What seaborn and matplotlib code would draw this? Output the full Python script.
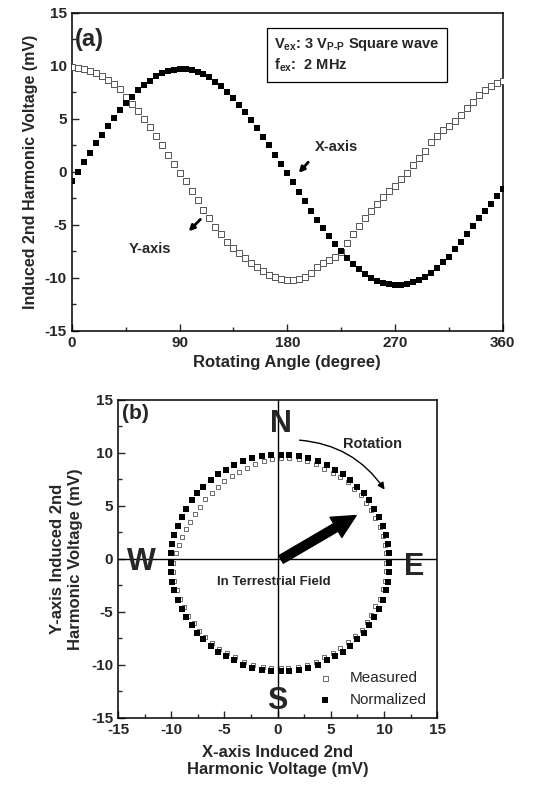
import numpy as np
import pandas as pd
import matplotlib
matplotlib.use('Agg')
import matplotlib.pyplot as plt
import seaborn as sns

# rotating angle (degree), 5 degree steps
angle = list(range(0, 361, 5))

# X-axis induced 2nd harmonic voltage (mV), filled squares
x_volt = [-0.9, 0.0, 0.9, 1.8, 2.7, 3.5, 4.3, 5.1, 5.8, 6.5, 7.1, 7.7, 8.2, 8.6, 9.0, 9.3, 9.5, 9.6,
          9.7, 9.7, 9.6, 9.4, 9.2, 8.9, 8.5, 8.1, 7.5, 7.0, 6.3, 5.6, 4.9, 4.1, 3.3, 2.5, 1.6, 0.7,
          -0.1, -1.0, -1.9, -2.8, -3.7, -4.5, -5.3, -6.1, -6.8, -7.5, -8.1, -8.7, -9.2, -9.6, -10.0, -10.3, -10.5, -10.6,
          -10.7, -10.7, -10.6, -10.4, -10.2, -9.9, -9.5, -9.1, -8.5, -8.0, -7.3, -6.6, -5.9, -5.1, -4.4, -3.7, -3.0, -2.3,
          -1.6]

# Y-axis induced 2nd harmonic voltage (mV), open squares
y_volt = [9.9, 9.8, 9.7, 9.5, 9.3, 9.0, 8.7, 8.3, 7.8, 7.1, 6.4, 5.7, 5.0, 4.2, 3.4, 2.5, 1.6, 0.7,
          -0.1, -0.9, -1.8, -2.7, -3.6, -4.4, -5.2, -5.9, -6.6, -7.2, -7.7, -8.1, -8.6, -9.0, -9.4, -9.7, -9.9, -10.1,
          -10.2, -10.2, -10.1, -9.9, -9.5, -9.0, -8.6, -8.3, -8.0, -7.6, -6.7, -5.9, -5.1, -4.4, -3.7, -3.0, -2.4, -1.8,
          -1.3, -0.7, -0.1, 0.6, 1.3, 2.0, 2.8, 3.4, 3.9, 4.3, 4.8, 5.4, 6.0, 6.6, 7.2, 7.7, 8.1, 8.4,
          8.6]

# panel (b): measured points (open)
x_meas = [0.3, 1.1, 2.0, 2.8, 3.6, 4.4, 5.2, 5.9, 6.6, 7.2, 7.8, 8.3, 8.8, 9.2, 9.6, 9.9, 10.1, 10.2,
          10.2, 10.2, 10.1, 9.9, 9.6, 9.2, 8.8, 8.4, 7.9, 7.3, 6.6, 5.9, 5.2, 4.4, 3.6, 2.8, 1.9, 1.0,
          0.3, -0.6, -1.4, -2.3, -3.2, -4.0, -4.8, -5.5, -6.2, -6.8, -7.4, -7.9, -8.4, -8.8, -9.2, -9.5, -9.7, -9.8,
          -9.8, -9.6, -9.3, -9.0, -8.6, -8.2, -7.8, -7.3, -6.8, -6.2, -5.6, -5.0, -4.3, -3.6, -2.9, -2.1, -1.3, -0.5]
y_meas = [9.5, 9.5, 9.4, 9.2, 8.9, 8.5, 8.1, 7.7, 7.2, 6.6, 6.0, 5.3, 4.6, 3.8, 3.0, 2.1, 1.3, 0.5,
          -0.4, -1.2, -2.1, -2.9, -3.8, -4.5, -5.3, -6.0, -6.7, -7.3, -7.9, -8.4, -8.9, -9.3, -9.7, -10.0, -10.2, -10.3,
          -10.3, -10.3, -10.2, -10.0, -9.7, -9.3, -8.9, -8.5, -8.0, -7.4, -6.8, -6.1, -5.4, -4.6, -3.8, -3.0, -2.1, -1.3,
          -0.4, 0.5, 1.3, 2.0, 2.8, 3.5, 4.2, 4.9, 5.6, 6.2, 6.8, 7.3, 7.8, 8.2, 8.6, 8.9, 9.2, 9.4]

# panel (b): normalized points (filled)
x_norm = [0.3, 1.1, 2.0, 2.9, 3.8, 4.6, 5.4, 6.1, 6.8, 7.5, 8.1, 8.6, 9.1, 9.5, 9.9, 10.2, 10.4, 10.5,
          10.5, 10.5, 10.4, 10.2, 9.9, 9.5, 9.1, 8.6, 8.1, 7.5, 6.8, 6.1, 5.4, 4.6, 3.8, 2.9, 2.0, 1.1,
          0.3, -0.6, -1.5, -2.4, -3.3, -4.1, -4.9, -5.6, -6.3, -7.0, -7.6, -8.1, -8.6, -9.0, -9.4, -9.7, -9.9, -10.0,
          -10.0, -10.0, -9.9, -9.7, -9.4, -9.0, -8.6, -8.1, -7.6, -7.0, -6.3, -5.6, -4.9, -4.1, -3.3, -2.4, -1.5, -0.6]
y_norm = [9.8, 9.8, 9.7, 9.5, 9.2, 8.8, 8.4, 8.0, 7.4, 6.8, 6.2, 5.5, 4.7, 3.9, 3.1, 2.2, 1.4, 0.5,
          -0.4, -1.3, -2.2, -3.0, -3.9, -4.7, -5.5, -6.3, -7.0, -7.6, -8.2, -8.8, -9.2, -9.6, -10.0, -10.3, -10.5, -10.6,
          -10.6, -10.6, -10.5, -10.3, -10.0, -9.6, -9.2, -8.8, -8.2, -7.6, -7.0, -6.3, -5.5, -4.7, -3.9, -3.0, -2.2, -1.3,
          -0.4, 0.5, 1.4, 2.2, 3.1, 3.9, 4.7, 5.5, 6.2, 6.8, 7.4, 8.0, 8.4, 8.8, 9.2, 9.5, 9.7, 9.8]

sns.set_style('ticks')
plt.rcParams['font.family'] = ['Liberation Sans', 'DejaVu Sans']
plt.rcParams['font.weight'] = 'bold'
plt.rcParams['axes.labelweight'] = 'bold'
plt.rcParams['axes.unicode_minus'] = False
plt.rcParams['mathtext.fontset'] = 'custom'
plt.rcParams['mathtext.bf'] = 'Liberation Sans:bold'
plt.rcParams['mathtext.rm'] = 'Liberation Sans:bold'
plt.rcParams['mathtext.it'] = 'Liberation Sans:bold'

df = pd.DataFrame({'angle': angle, 'x': x_volt, 'y': y_volt})
dm = pd.DataFrame({'x': x_meas, 'y': y_meas})
dn = pd.DataFrame({'x': x_norm, 'y': y_norm})

fig = plt.figure(figsize=(5.52, 8.01), dpi=100)
ax1 = fig.add_axes([0.130, 0.587, 0.781, 0.397])
ax2 = fig.add_axes([0.214, 0.104, 0.578, 0.397])


def style_axis(ax):
    for sp in ax.spines.values():
        sp.set_linewidth(1.1)
        sp.set_color('black')
    ax.tick_params(which='both', direction='in', top=False, right=False, labelsize=11, width=1.0)
    ax.tick_params(which='major', length=5)
    ax.tick_params(which='minor', length=3)
    for lab in ax.get_xticklabels() + ax.get_yticklabels():
        lab.set_fontweight('bold')


# ---- panel (a)
sns.scatterplot(data=df, x='angle', y='y', ax=ax1, marker='s', s=16, facecolor='white',
                edgecolor='#555555', linewidth=0.7, zorder=3)
sns.scatterplot(data=df, x='angle', y='x', ax=ax1, marker='s', s=20, color='black',
                edgecolor='black', linewidth=0, zorder=4)
ax1.set_xlim(0, 360)
ax1.set_ylim(-15, 15)
ax1.set_xticks([0, 90, 180, 270, 360])
ax1.set_xticks([45, 135, 225, 315], minor=True)
ax1.set_yticks([-15, -10, -5, 0, 5, 10, 15])
ax1.set_yticks([-12.5, -7.5, -2.5, 2.5, 7.5, 12.5], minor=True)
ax1.set_xlabel('Rotating Angle (degree)', fontsize=12, labelpad=4)
ax1.set_ylabel('Induced 2nd Harmonic Voltage (mV)', fontsize=11.5, labelpad=5)
style_axis(ax1)

ax1.text(3, 13.6, '(a)', fontsize=17, fontweight='bold', va='top', ha='left')
ax1.text(169, 12.8, r'V$_{ex}$: 3 V$_{P\text{-}P}$ Square wave' + '\n' + r'f$_{ex}$:  2 MHz',
         fontsize=10.5, fontweight='bold', va='top', ha='left', linespacing=1.3,
         bbox=dict(boxstyle='square,pad=0.5', fc='white', ec='black', lw=0.9))
ax1.text(221, 2.3, 'X-axis', fontsize=10.5, fontweight='bold', ha='center', va='center')
ax1.annotate('', xy=(188, -0.3), xytext=(199, 1.1),
             arrowprops=dict(arrowstyle='-|>', color='black', lw=2, mutation_scale=8))
ax1.text(65, -7.3, 'Y-axis', fontsize=10.5, fontweight='bold', ha='center', va='center')
ax1.annotate('', xy=(96, -5.8), xytext=(109, -4.3),
             arrowprops=dict(arrowstyle='-|>', color='black', lw=2, mutation_scale=8))

# ---- panel (b)
ax2.axhline(0, color='black', lw=1.0, zorder=1)
ax2.axvline(0, color='black', lw=1.0, zorder=1)
sns.scatterplot(data=dm, x='x', y='y', ax=ax2, marker='s', s=9, facecolor='white',
                edgecolor='#555555', linewidth=0.6, zorder=3, label='Measured')
sns.scatterplot(data=dn, x='x', y='y', ax=ax2, marker='s', s=16, color='black',
                edgecolor='black', linewidth=0, zorder=4, label='Normalized')
ax2.set_xlim(-15, 15)
ax2.set_ylim(-15, 15)
ax2.set_xticks([-15, -10, -5, 0, 5, 10, 15])
ax2.set_yticks([-15, -10, -5, 0, 5, 10, 15])
ax2.set_xticks([-12.5, -7.5, -2.5, 2.5, 7.5, 12.5], minor=True)
ax2.set_yticks([-12.5, -7.5, -2.5, 2.5, 7.5, 12.5], minor=True)
ax2.set_xlabel('X-axis Induced 2nd\nHarmonic Voltage (mV)', fontsize=12, labelpad=6)
ax2.set_ylabel('Y-axis Induced 2nd\nHarmonic Voltage (mV)', fontsize=12, labelpad=6)
style_axis(ax2)

leg = ax2.legend(loc='lower right', frameon=False, fontsize=11, handletextpad=0.6,
                 borderaxespad=0.3, markerscale=1.2)
for t in leg.get_texts():
    t.set_fontweight('normal')

ax2.text(-14.6, 14.6, '(b)', fontsize=15, fontweight='bold', va='top', ha='left')
ax2.text(0.3, 12.7, 'N', fontsize=22, fontweight='bold', ha='center', va='center')
ax2.text(0.0, -13.4, 'S', fontsize=22, fontweight='bold', ha='center', va='center')
ax2.text(-12.8, -0.3, 'W', fontsize=22, fontweight='bold', ha='center', va='center')
ax2.text(12.8, -0.8, 'E', fontsize=22, fontweight='bold', ha='center', va='center')
ax2.text(8.9, 10.8, 'Rotation', fontsize=10.5, fontweight='bold', ha='center', va='center')
ax2.annotate('', xy=(10.2, 6.3), xytext=(1.8, 11.2),
             arrowprops=dict(arrowstyle='-|>', color='black', lw=1.0, mutation_scale=10,
                             connectionstyle='arc3,rad=-0.25'))
ax2.annotate('', xy=(7.6, 4.2), xytext=(0.1, -0.2),
             arrowprops=dict(arrowstyle='simple,head_width=1.2,head_length=1.2,tail_width=0.45',
                             color='black', mutation_scale=14))
ax2.text(-0.4, -2.2, 'In Terrestrial Field', fontsize=9.5, fontweight='bold', ha='center', va='center')

fig.savefig('out.png', dpi=100)
